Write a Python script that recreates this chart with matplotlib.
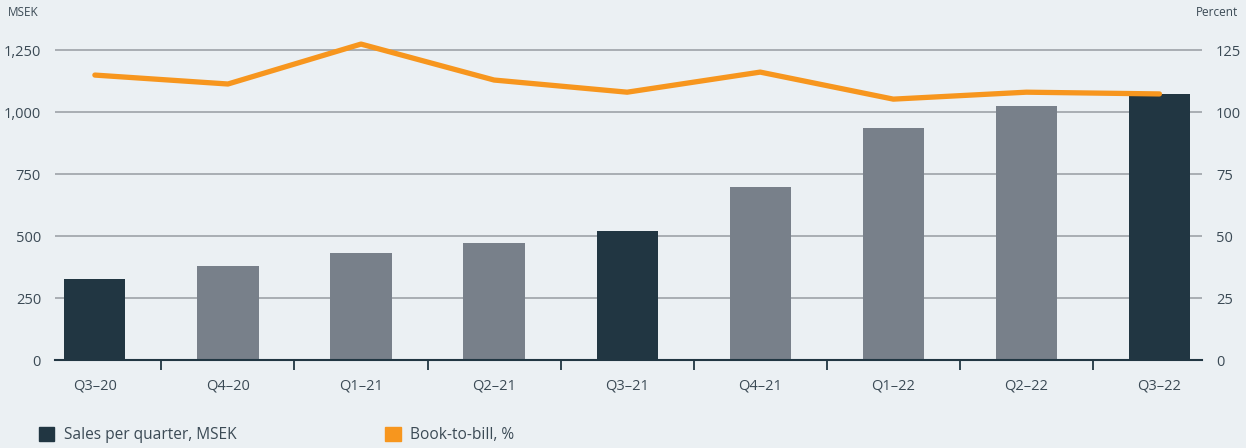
import numpy as np
import matplotlib.pyplot as plt
from matplotlib.patches import Patch

quarters = ['Q3–20', 'Q4–20', 'Q1–21', 'Q2–21', 'Q3–21', 'Q4–21', 'Q1–22', 'Q2–22', 'Q3–22']
sales = [327, 379, 431, 472, 520, 698, 935, 1024, 1073]
book_to_bill = [114.9, 111.3, 127.4, 112.9, 108.0, 116.1, 105.2, 108.0, 107.3]
highlight = [True, False, False, False, True, False, False, False, True]

bg = '#ebf0f3'
dark = '#213642'
grey = '#78808a'
orange = '#f7961e'
text_c = '#3b4a55'
grid_c = '#a3a8ae'

plt.rcParams['font.family'] = ['Open Sans', 'DejaVu Sans']

fig = plt.figure(figsize=(12.46, 4.48), dpi=100, facecolor=bg)
ax = fig.add_axes([0.0441, 0.1964, 0.9206, 0.7196], facecolor=bg)
ax2 = ax.twinx()

x = np.arange(len(quarters))
colors = [dark if h else grey for h in highlight]
ax.bar(x, sales, width=0.46, color=colors, zorder=3)
ax2.plot(x, book_to_bill, color=orange, lw=3.8, solid_capstyle='round', zorder=4)

ax.set_xlim(-0.3, 8.32)
ax.set_ylim(0, 1300)
ax2.set_ylim(0, 130)
ax.set_yticks([0, 250, 500, 750, 1000, 1250])
ax.set_yticklabels(['0', '250', '500', '750', '1,000', '1,250'])
ax2.set_yticks([0, 25, 50, 75, 100, 125])

ax.grid(axis='y', color=grid_c, lw=1.3, zorder=0)
ax.set_axisbelow(True)
for a in (ax, ax2):
    for s in a.spines.values():
        s.set_visible(False)
ax.spines['bottom'].set_visible(True)
ax.spines['bottom'].set_color(dark)
ax.spines['bottom'].set_linewidth(1.5)
ax.spines['bottom'].set_zorder(5)

ax.set_xticks(x)
ax.set_xticklabels(quarters)
ax.set_xticks(np.arange(0.5, 8, 1), minor=True)
ax.tick_params(axis='x', which='major', length=0, pad=13, labelsize=10.5, labelcolor=text_c)
ax.tick_params(axis='x', which='minor', length=7, width=1.3, color=dark, direction='out')
ax.tick_params(axis='y', length=0, pad=10, labelsize=10.5, labelcolor=text_c)
ax2.tick_params(axis='y', length=0, pad=10, labelsize=10.5, labelcolor=text_c)

fig.text(8 / 1246, 1 - 12 / 448, 'MSEK', fontsize=8.5, color=text_c, va='center', ha='left')
fig.text(1238 / 1246, 1 - 12 / 448, 'Percent', fontsize=8.5, color=text_c, va='center', ha='right')

handles = [Patch(color=dark, label='Sales per quarter, MSEK'),
           Patch(color=orange, label='Book-to-bill, %')]
leg = fig.legend(handles=handles, loc='center left', bbox_to_anchor=(0.026, 1 - 435 / 448),
                 ncol=2, frameon=False, fontsize=11.2, handlelength=1.0, handleheight=1.0,
                 handletextpad=0.6, columnspacing=9.6, borderaxespad=0)
for t in leg.get_texts():
    t.set_color(text_c)

fig.savefig('out.png', dpi=100, facecolor=bg)
